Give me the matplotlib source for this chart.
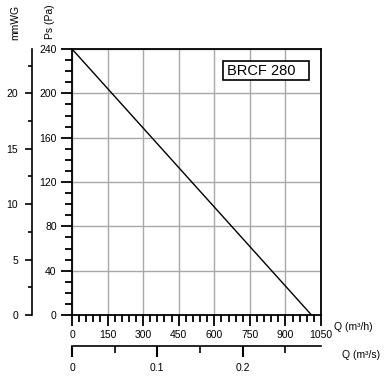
import numpy as np
import matplotlib.pyplot as plt
from matplotlib.patches import Rectangle

plt.rcParams['font.family'] = ['Liberation Sans', 'DejaVu Sans']

# fan curve
q_m3h = [0, 1010]
ps_pa = [240, 0]

model = 'BRCF 280'
x_ticks = [0, 150, 300, 450, 600, 750, 900, 1050]
y_ticks = [0, 40, 80, 120, 160, 200, 240]
mm_ticks = [0, 5, 10, 15, 20]
qs_ticks = [0, 0.1, 0.2]

W, H = 385, 392
fig = plt.figure(figsize=(W / 100, H / 100), dpi=100)
fs = 7.5

left, right, top, bot = 72 / W, 321 / W, 1 - 49 / H, 1 - 315 / H
ax = fig.add_axes([left, bot, right - left, top - bot])
ax.plot(q_m3h, ps_pa, color='black', lw=1)
ax.set_xlim(0, 1050)
ax.set_ylim(0, 240)
ax.set_xticks(x_ticks)
ax.set_yticks(y_ticks)
ax.set_xticks(np.arange(0, 1051, 30), minor=True)
ax.set_yticks(np.arange(0, 241, 10), minor=True)
ax.grid(True, which='major', color='#a8a8a8', lw=1)
ax.tick_params(which='major', length=8, width=1.3, labelsize=fs, color='black', pad=3)
ax.tick_params(which='minor', length=5, width=1.3, color='black')
for s in ax.spines.values():
    s.set_linewidth(1.3)
ax.text(1.052, -0.045, 'Q (m³/h)', transform=ax.transAxes, fontsize=fs, va='center', ha='left')

# model name box
ax.add_patch(Rectangle((637, 212), 362, 17, fill=True, fc='white', ec='black', lw=1.2, zorder=3))
ax.text(652, 220.5, model, fontsize=10.5, va='center', ha='left', zorder=4)

# mmWG axis on the far left (1 mmWG ~ 10 Pa)
axm = fig.add_axes([32 / W, bot, 0.0001, top - bot])
axm.set_ylim(0, 24)
axm.set_yticks(mm_ticks)
axm.set_yticks(np.arange(2.5, 24, 5), minor=True)
axm.set_xticks([])
for k in ['top', 'right', 'bottom']:
    axm.spines[k].set_visible(False)
axm.spines['left'].set_linewidth(1.2)
axm.tick_params(which='major', length=5, width=1.2, labelsize=fs, pad=5)
axm.tick_params(which='minor', length=3, width=1.2)

# m3/s axis below
axs = fig.add_axes([left, 1 - 346 / H, right - left, 0.0001])
axs.set_xlim(0, 1050 / 3600)
axs.set_xticks(qs_ticks)
axs.set_xticks(np.arange(0, 0.29, 0.05), minor=True)
axs.set_xticklabels(['0', '0.1', '0.2'])
axs.set_yticks([])
for k in ['top', 'right', 'left']:
    axs.spines[k].set_visible(False)
axs.spines['bottom'].set_linewidth(1.2)
axs.tick_params(which='major', length=8, width=1.5, labelsize=fs, pad=4)
axs.tick_params(which='minor', length=5, width=1.2)
fig.text(342 / W, 1 - 355 / H, 'Q (m³/s)', fontsize=fs, va='center', ha='left')

fig.text(15 / W, 1 - 22 / H, 'mmWG', rotation=90, fontsize=fs, ha='center', va='center')
fig.text(50 / W, 1 - 22 / H, 'Ps (Pa)', rotation=90, fontsize=fs, ha='center', va='center')

fig.savefig('out.png', dpi=100)
